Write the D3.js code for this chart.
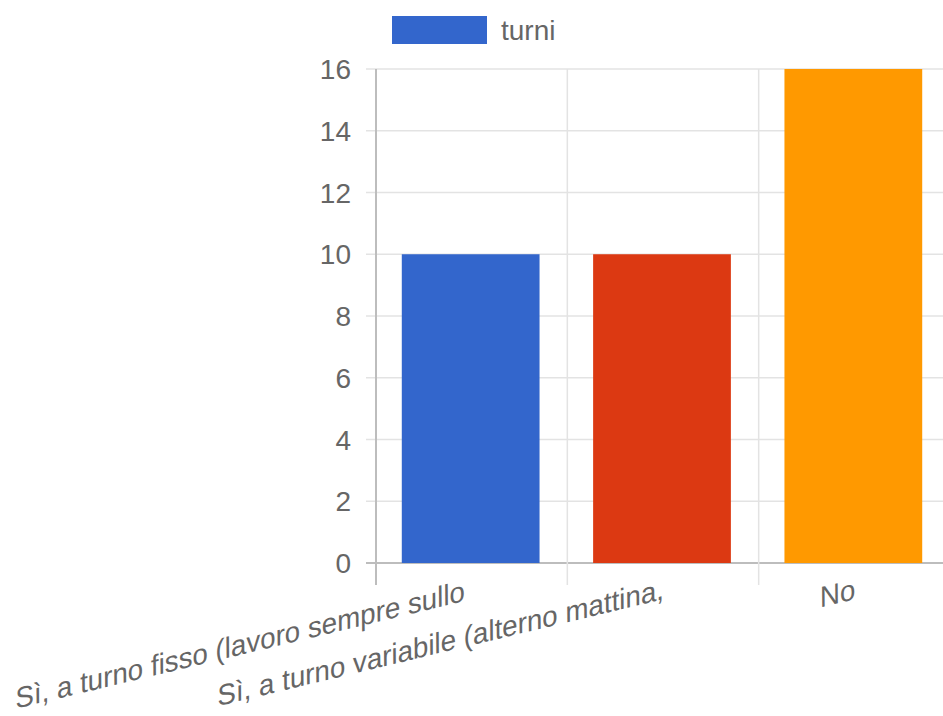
<!DOCTYPE html>
<html>
<head>
<meta charset="utf-8">
<script src="https://cdn.jsdelivr.net/npm/d3@7"></script>
<style>
  body { margin: 0; background: #fff; }
  svg { display: block; font-family: "Liberation Sans", Arial, sans-serif; }
</style>
</head>
<body>
<svg id="chart" width="943" height="716"></svg>
<script>
var categories = [
    "Sì, a turno fisso (lavoro sempre sullo ",
    "Sì, a turno variabile (alterno mattina,",
    "No"
];
var values = [10, 10, 16];
var barColors = ["#3366cc", "#dc3912", "#ff9900"];
var seriesName = "turni";
var yTicks = [0, 2, 4, 6, 8, 10, 12, 14, 16];

var svg = d3.select("#chart");
var margin = {top: 69, left: 376, right: -7, bottom: 153};
var width = 943 - margin.left - margin.right,
    height = 716 - margin.top - margin.bottom;

var x = d3.scaleBand().domain(categories).range([0, width]).paddingInner(0).paddingOuter(0);
var y = d3.scaleLinear().domain([0, 16]).range([height, 0]);

var g = svg.append("g").attr("transform", "translate(" + margin.left + "," + margin.top + ")");

// horizontal grid + tick marks
g.selectAll(".hgrid").data(yTicks).enter().append("line")
    .attr("x1", -10).attr("x2", width)
    .attr("y1", d => y(d)).attr("y2", d => y(d))
    .attr("stroke", d => d === 0 ? "#bdbdbd" : "#e3e3e3")
    .attr("stroke-width", d => d === 0 ? 2 : 1.5);

// vertical grid at band edges
var edges = categories.map(c => x(c));
g.selectAll(".vgrid").data(edges).enter().append("line")
    .attr("x1", d => d).attr("x2", d => d)
    .attr("y1", 0).attr("y2", height + 22)
    .attr("stroke", (d, i) => i === 0 ? "#bdbdbd" : "#e3e3e3")
    .attr("stroke-width", (d, i) => i === 0 ? 2 : 1.5);

// bars
var bw = x.bandwidth() * 0.72;
g.selectAll(".bar").data(values).enter().append("rect")
    .attr("x", (d, i) => x(categories[i]) + (x.bandwidth() - bw) / 2 - 1)
    .attr("y", d => y(d))
    .attr("width", bw)
    .attr("height", d => height - y(d))
    .attr("fill", (d, i) => barColors[i]);

// y tick labels
g.selectAll(".ylab").data(yTicks).enter().append("text")
    .attr("x", -25).attr("y", d => y(d))
    .attr("dy", "0.36em")
    .attr("text-anchor", "end")
    .attr("fill", "#666")
    .style("font-size", "28px")
    .text(d => d);

// x labels, slanted
g.selectAll(".xlab").data(categories).enter().append("text")
    .attr("transform", c => "translate(" + (x(c) + x.bandwidth() / 2 + 1) + "," + (height + 36) + ") rotate(-13.5) skewX(-13)")
    .attr("text-anchor", "end")
    .attr("fill", "#666")
    .style("font-size", "28.5px")
    .style("white-space", "pre")
    .text(c => c);

// legend
var lg = svg.append("g").attr("transform", "translate(392,16)");
lg.append("rect").attr("width", 95).attr("height", 28).attr("fill", barColors[0]);
lg.append("text").attr("x", 109).attr("y", 14).attr("dy", "0.36em")
    .attr("fill", "#666").style("font-size", "28px").text(seriesName);
</script>
</body>
</html>
